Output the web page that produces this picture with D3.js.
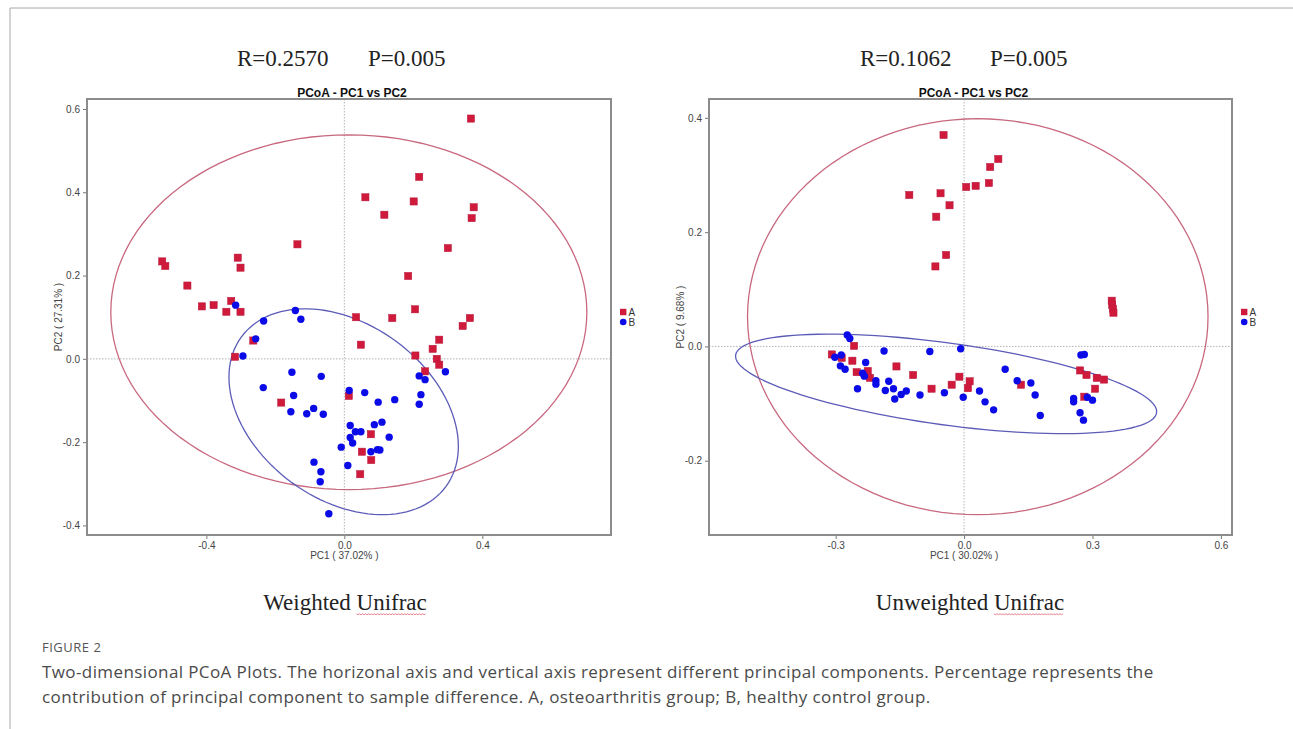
<!DOCTYPE html>
<html>
<head>
<meta charset="utf-8">
<script src="https://cdn.jsdelivr.net/npm/d3@7"></script>
<style>
  html, body { margin: 0; padding: 0; background: #fff; }
  svg { display: block; }
</style>
</head>
<body>
<svg id="chart" width="1293" height="729"></svg>
<script>
// ---------------- DATA ----------------
// Weighted UniFrac, group A (osteoarthritis) [PC1, PC2]
const weightedA = [
  [-0.528,0.234],[-0.519,0.223],[-0.309,0.243],[-0.301,0.219],[-0.455,0.176],
  [-0.136,0.275],[-0.413,0.126],[-0.379,0.129],[-0.328,0.139],[-0.342,0.113],
  [-0.301,0.113],[-0.264,0.044],[-0.317,0.005],[0.061,0.388],[0.367,0.577],
  [0.217,0.437],[0.201,0.378],[0.116,0.346],[0.375,0.364],[0.369,0.338],
  [0.300,0.266],[0.185,0.199],[0.205,0.119],[0.034,0.100],[0.139,0.098],
  [0.048,0.034],[0.343,0.079],[0.364,0.098],[0.275,0.046],[0.256,0.024],
  [0.206,0.008],[0.268,0.000],[0.275,-0.014],[0.234,-0.030],[-0.183,-0.105],
  [0.013,-0.089],[0.077,-0.181],[0.051,-0.223],[0.078,-0.243],[0.046,-0.277]
];
// Weighted UniFrac, group B (healthy control)
const weightedB = [
  [-0.315,0.129],[-0.142,0.116],[-0.126,0.095],[-0.234,0.091],[-0.257,0.048],
  [-0.294,0.007],[-0.152,-0.032],[-0.067,-0.042],[-0.235,-0.069],[-0.147,-0.088],
  [0.014,-0.076],[0.059,-0.081],[0.098,-0.104],[0.146,-0.098],[0.222,-0.086],
  [0.217,-0.109],[0.293,-0.031],[0.217,-0.041],[0.234,-0.050],[-0.155,-0.127],
  [-0.109,-0.132],[-0.089,-0.119],[-0.061,-0.133],[0.017,-0.160],[0.032,-0.175],
  [0.048,-0.175],[0.087,-0.158],[0.109,-0.152],[0.017,-0.189],[0.024,-0.202],
  [-0.009,-0.212],[0.130,-0.188],[0.077,-0.223],[0.096,-0.218],[0.103,-0.219],
  [-0.088,-0.248],[0.010,-0.256],[-0.068,-0.271],[-0.070,-0.295],[-0.045,-0.372]
];
// Unweighted UniFrac, group A
const unweightedA = [
  [-0.048,0.370],[-0.128,0.265],[-0.055,0.268],[-0.034,0.247],[-0.065,0.227],
  [-0.042,0.160],[-0.067,0.140],[0.005,0.279],[0.027,0.281],[0.058,0.286],
  [0.061,0.314],[0.080,0.328],[0.345,0.080],[0.346,0.073],[0.348,0.066],
  [0.349,0.059],
  [-0.309,-0.014],[-0.286,-0.020],[-0.257,0.001],[-0.261,-0.025],[-0.251,-0.045],
  [-0.225,-0.043],[-0.220,-0.055],[-0.158,-0.035],[-0.119,-0.050],[-0.076,-0.074],
  [-0.029,-0.067],[-0.011,-0.053],[0.009,-0.073],[0.013,-0.061],[0.133,-0.067],
  [0.271,-0.042],[0.286,-0.050],[0.310,-0.055],[0.327,-0.058],[0.306,-0.074],
  [0.281,-0.088]
];
// Unweighted UniFrac, group B
const unweightedB = [
  [-0.273,0.020],[-0.267,0.014],[-0.302,-0.019],[-0.287,-0.015],[-0.289,-0.034],
  [-0.278,-0.040],[-0.230,-0.028],[-0.237,-0.047],[-0.233,-0.052],[-0.249,-0.074],
  [-0.206,-0.060],[-0.206,-0.066],[-0.176,-0.061],[-0.187,-0.008],[-0.184,-0.077],
  [-0.165,-0.074],[-0.162,-0.092],[-0.147,-0.084],[-0.135,-0.078],[-0.103,-0.085],
  [-0.080,-0.009],[-0.046,-0.081],[-0.008,-0.004],[-0.002,-0.089],[0.036,-0.078],
  [0.049,-0.097],[0.069,-0.111],[0.096,-0.040],[0.124,-0.060],[0.156,-0.064],
  [0.166,-0.085],[0.178,-0.121],[0.273,-0.015],[0.281,-0.014],[0.256,-0.091],
  [0.256,-0.097],[0.288,-0.089],[0.300,-0.094],[0.271,-0.116],[0.279,-0.129]
];
// Confidence ellipses: [centerX, centerY, u1x, u1y, u2x, u2y] (conjugate semi-axis vectors, data units)
const weightedEllipseA = [0.013, 0.112, 0.690, 0.0, 0.0, 0.426];
const weightedEllipseB = [-0.002, -0.127, 0.2968, -0.1792, -0.1499, -0.1703];
const unweightedEllipseA = [0.032, 0.052, 0.538, 0.0, 0.0, 0.3465];
const unweightedEllipseB = [-0.042, -0.0656, 0.4918, -0.0504, -0.0130, -0.0710];

// Axis extents and ticks
const weightedXDomain = [-0.746, 0.773];
const weightedYDomain = [-0.423, 0.624];
const weightedXTicks = [-0.4, 0.0, 0.4];
const weightedYTicks = [-0.4, -0.2, 0.0, 0.2, 0.4, 0.6];
const unweightedXDomain = [-0.596, 0.626];
const unweightedYDomain = [-0.33, 0.433];
const unweightedXTicks = [-0.3, 0.0, 0.3, 0.6];
const unweightedYTicks = [-0.2, 0.0, 0.2, 0.4];

const groups = ["A", "B"];
const statsLabels = [["R=0.2570", "P=0.005"], ["R=0.1062", "P=0.005"]];
const panelTitles = ["Weighted Unifrac", "Unweighted Unifrac"];
const xTitles = ["PC1 ( 37.02% )", "PC1 ( 30.02% )"];
const yTitles = ["PC2 ( 27.31% )", "PC2 ( 9.68% )"];
const plotTitle = "PCoA - PC1 vs PC2";
const figureLabel = "FIGURE 2";
const captionLines = [
  "Two-dimensional PCoA Plots. The horizonal axis and vertical axis represent different principal components. Percentage represents the",
  "contribution of principal component to sample difference. A, osteoarthritis group; B, healthy control group."
];

// ---------------- DRAW ----------------
const svg = d3.select("#chart");
const RED = "#d01a3c", BLUE = "#0b0be8";
const RED_ELL = "#c8687f", BLUE_ELL = "#5c5cb8";

// figure border
svg.append("line").attr("x1", 10).attr("y1", 8).attr("x2", 1293).attr("y2", 8).attr("stroke", "#a8a8a8").attr("stroke-width", 1);
svg.append("line").attr("x1", 10).attr("y1", 8).attr("x2", 10).attr("y2", 729).attr("stroke", "#a8a8a8").attr("stroke-width", 1);

const panels = [
  { left: 87, right: 611, top: 99, bottom: 535, xd: weightedXDomain, yd: weightedYDomain,
    xt: weightedXTicks, yt: weightedYTicks, A: weightedA, B: weightedB,
    eA: weightedEllipseA, eB: weightedEllipseB, statX: [237, 368], legendX: 620, titleX: 345, yTitleX: 62 },
  { left: 709, right: 1232, top: 99, bottom: 535, xd: unweightedXDomain, yd: unweightedYDomain,
    xt: unweightedXTicks, yt: unweightedYTicks, A: unweightedA, B: unweightedB,
    eA: unweightedEllipseA, eB: unweightedEllipseB, statX: [860, 990], legendX: 1241, titleX: 970, yTitleX: 684 }
];

panels.forEach((p, i) => {
  const x = d3.scaleLinear().domain(p.xd).range([p.left, p.right]);
  const y = d3.scaleLinear().domain(p.yd).range([p.bottom, p.top]);
  const g = svg.append("g");

  // stats header
  g.append("text").attr("x", p.statX[0]).attr("y", 66).text(statsLabels[i][0])
    .attr("font-family", "Liberation Serif, Times New Roman, serif").attr("font-size", 23).attr("fill", "#222");
  g.append("text").attr("x", p.statX[1]).attr("y", 66).text(statsLabels[i][1])
    .attr("font-family", "Liberation Serif, Times New Roman, serif").attr("font-size", 23).attr("fill", "#222");

  // plot title
  g.append("text").attr("x", (p.left + p.right) / 2 + 3).attr("y", 97).attr("text-anchor", "middle")
    .attr("font-family", "Liberation Sans, Arial, sans-serif").attr("font-weight", "bold").attr("font-size", 12)
    .attr("fill", "#111").text(plotTitle);

  // zero reference lines
  g.append("line").attr("x1", x(0)).attr("x2", x(0)).attr("y1", p.top).attr("y2", p.bottom)
    .attr("stroke", "#b5b5b5").attr("stroke-width", 1).attr("stroke-dasharray", "1.5,1.5");
  g.append("line").attr("x1", p.left).attr("x2", p.right).attr("y1", y(0)).attr("y2", y(0))
    .attr("stroke", "#b5b5b5").attr("stroke-width", 1).attr("stroke-dasharray", "1.5,1.5");

  // axes
  const fmt = d => d.toFixed(1);
  const ax = g.append("g").attr("transform", `translate(0,${p.bottom})`)
    .call(d3.axisBottom(x).tickValues(p.xt).tickFormat(fmt).tickSize(4).tickPadding(3));
  const ay = g.append("g").attr("transform", `translate(${p.left},0)`)
    .call(d3.axisLeft(y).tickValues(p.yt).tickFormat(fmt).tickSize(4).tickPadding(3));
  [ax, ay].forEach(a => {
    a.select(".domain").remove();
    a.selectAll(".tick line").attr("stroke", "#777");
    a.selectAll(".tick text").attr("font-family", "Liberation Sans, Arial, sans-serif")
      .attr("font-size", 10).attr("fill", "#444");
  });

  // axis titles
  g.append("text").attr("x", x(0)).attr("y", 559)
    .attr("text-anchor", "middle").attr("font-family", "Liberation Sans, Arial, sans-serif")
    .attr("font-size", 10).attr("fill", "#444").text(xTitles[i]);
  g.append("text").attr("transform", `translate(${p.yTitleX},${(p.top + p.bottom) / 2}) rotate(-90)`)
    .attr("text-anchor", "middle").attr("font-family", "Liberation Sans, Arial, sans-serif")
    .attr("font-size", 10).attr("fill", "#444").text(yTitles[i]);

  // ellipses
  const ellipse = e => d3.range(0, 121).map(k => {
    const t = k / 120 * 2 * Math.PI;
    return [x(e[0] + e[2] * Math.cos(t) + e[4] * Math.sin(t)), y(e[1] + e[3] * Math.cos(t) + e[5] * Math.sin(t))];
  });
  const line = d3.line();
  g.append("path").attr("d", line(ellipse(p.eA))).attr("fill", "none").attr("stroke", RED_ELL).attr("stroke-width", 1.3);
  g.append("path").attr("d", line(ellipse(p.eB))).attr("fill", "none").attr("stroke", BLUE_ELL).attr("stroke-width", 1.3);

  // points
  g.selectAll(".sqA").data(p.A).join("rect")
    .attr("x", d => x(d[0]) - 3.6).attr("y", d => y(d[1]) - 3.6)
    .attr("width", 7.2).attr("height", 7.2).attr("fill", RED).attr("stroke", "#b8173a").attr("stroke-width", 0.5);
  g.selectAll(".ciB").data(p.B).join("circle")
    .attr("cx", d => x(d[0])).attr("cy", d => y(d[1])).attr("r", 3.7).attr("fill", BLUE);

  // frame
  g.append("rect").attr("x", p.left).attr("y", p.top).attr("width", p.right - p.left).attr("height", p.bottom - p.top)
    .attr("fill", "none").attr("stroke", "#8c8c8c").attr("stroke-width", 2);

  // legend
  const lg = g.append("g").attr("transform", `translate(${p.legendX},312)`);
  lg.append("rect").attr("x", 0).attr("y", -3.2).attr("width", 6.4).attr("height", 6.4).attr("fill", RED);
  lg.append("circle").attr("cx", 3.2).attr("cy", 10).attr("r", 3.3).attr("fill", BLUE);
  lg.selectAll("text.lt").data(groups).join("text")
    .attr("x", 8.5).attr("y", (d, k) => k * 10 + 3.6).text(d => d)
    .attr("font-family", "Liberation Sans, Arial, sans-serif").attr("font-size", 10).attr("fill", "#333");

  // panel title with underline on "Unifrac"
  const pt = g.append("text").attr("x", p.titleX).attr("y", 610).attr("text-anchor", "middle")
    .attr("font-family", "Liberation Serif, Times New Roman, serif").attr("font-size", 23).attr("fill", "#222")
    .text(panelTitles[i]);
  const node = pt.node();
  const full = panelTitles[i];
  const idx = full.indexOf("Unifrac");
  const total = node.getComputedTextLength();
  const startX = p.titleX - total / 2 + node.getSubStringLength(0, idx);
  const w = node.getSubStringLength(idx, 7);
  const pts = [];
  for (let xx = 0; xx <= w; xx += 1.5) pts.push([startX + xx, 614 + ((Math.round(xx / 1.5) % 2) ? 0.7 : -0.2)]);
  g.append("path").attr("d", d3.line()(pts)).attr("fill", "none").attr("stroke", "#e06070").attr("stroke-width", 0.8);
});

// caption
svg.append("text").attr("x", 42).attr("y", 652).text(figureLabel)
  .attr("font-family", "Open Sans, Lato, sans-serif").attr("font-size", 13).attr("fill", "#555").attr("letter-spacing", 0.5);
svg.selectAll("text.cap").data(captionLines).join("text")
  .attr("x", 42).attr("y", (d, k) => 678 + k * 25).text(d => d)
  .attr("font-family", "Open Sans, Lato, sans-serif").attr("font-size", 17).attr("letter-spacing", 0.4).attr("fill", "#4a4a4a");
</script>
</body>
</html>
